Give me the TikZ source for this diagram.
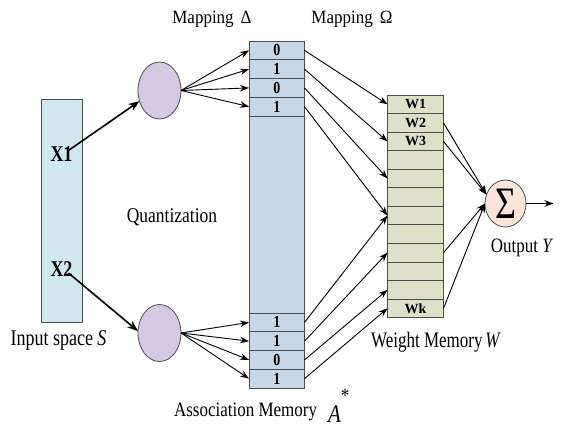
\documentclass[tikz,border=0pt]{standalone}
\usepackage{fontspec}
\setmainfont{Liberation Serif}
\usepackage{tikz}
\usetikzlibrary{positioning,shapes.geometric,arrows.meta}

\definecolor{inblue}{HTML}{CFE8EE}
\definecolor{quantc}{HTML}{D3C9E0}
\definecolor{assoc}{HTML}{C8D7E7}
\definecolor{weightc}{HTML}{DEE0C9}
\definecolor{sumc}{HTML}{FBE5D8}
\definecolor{edgec}{HTML}{4D4D4D}

\newcommand{\talltext}[2][1.2]{\scalebox{1}[#1]{#2}}

\begin{document}
\begin{tikzpicture}[x=1pt,y=-1pt,
		cell/.style={draw=edgec,line width=0.8pt,fill=assoc,minimum width=55.5pt,minimum height=18.75pt,inner sep=0pt,outer sep=0pt,font=\fontsize{14}{14}\selectfont\bfseries},
		wcell/.style={cell,fill=weightc,minimum width=56pt,minimum height=18.55pt},
		quant/.style={ellipse,draw=edgec,line width=0.8pt,fill=quantc,minimum width=43pt,minimum height=57pt,inner sep=0pt,outer sep=0pt},
		lbl/.style={inner sep=0pt,outer sep=0pt,font=\fontsize{17}{20}\selectfont},
		map arr/.style={-{Stealth[length=9pt,width=6.5pt]},line width=0.9pt},
		in arr/.style={-{Stealth[length=11pt,width=8pt]},line width=1.6pt}]
		\useasboundingbox (0,0) rectangle (562,426);
		
		\node[draw=edgec,line width=0.8pt,fill=inblue,minimum width=41pt,minimum height=223pt,outer sep=0pt] (s) at (61.5,210.5) {};
		\node[lbl,font=\fontsize{18}{18}\selectfont\bfseries,anchor=base] (x1) at (61.5,161) {\talltext[1.25]{X1}};
		\node[lbl,font=\fontsize{18}{18}\selectfont\bfseries,anchor=base] (x2) at (61.5,276) {\talltext[1.25]{X2}};
		\node[lbl,font=\fontsize{18}{20}\selectfont,below=23pt of s,anchor=base,xshift=-3pt] (inlbl) {\talltext[1.25]{Input space \textit{S}}};
		
		\node[quant] (q1) at (159.5,90.5) {};
		\node[quant] (q2) at (159.5,333) {};
		\node[lbl,font=\fontsize{17.5}{20}\selectfont,anchor=base] (qlbl) at (172,222) {\talltext{Quantization}};
		\draw[in arr] ([xshift=-5pt,yshift=-5pt]x1.north east) -- (q1.208);
		\draw[in arr] ([xshift=-4pt,yshift=3pt]x2.south east) -- (q2.175);
		
		\node[cell] (a1) at (276.75,50.4) {\talltext{0}};
		\node[cell,below=0pt of a1] (a2) {\talltext{1}};
		\node[cell,below=0pt of a2] (a3) {\talltext{0}};
		\node[cell,below=0pt of a3] (a4) {\talltext{1}};
		\node[cell,minimum height=197pt,below=0pt of a4] (amid) {};
		\node[cell,below=0pt of amid] (b1) {\talltext{1}};
		\node[cell,below=0pt of b1] (b2) {\talltext{1}};
		\node[cell,below=0pt of b2] (b3) {\talltext{0}};
		\node[cell,below=0pt of b3] (b4) {\talltext{1}};
		\node[lbl,below=28pt of b4,anchor=base,xshift=-15pt] (amlbl) {\talltext{Association Memory\hspace{11pt}\raisebox{-5pt}{\fontsize{21}{21}\selectfont\textit{A}}\raisebox{11pt}{*}}};
		\node[lbl,anchor=base] (mapd) at (212,23) {\talltext[1.1]{Mapping\hspace{7pt}Δ}};
		\node[lbl,anchor=base] (mapo) at (352,23) {\talltext[1.1]{Mapping\hspace{7pt}Ω}};
		
		\draw[map arr] (q1.east) -- (a1.west);
		\draw[map arr] (q1.east) -- (a2.west);
		\draw[map arr] (q1.east) -- (a3.west);
		\draw[map arr] (q1.east) -- (a4.west);
		\draw[map arr] (q2.east) -- (b1.west);
		\draw[map arr] (q2.east) -- (b2.west);
		\draw[map arr] (q2.east) -- (b3.west);
		\draw[map arr] (q2.east) -- (b4.west);
		
		\node[wcell] (w1) at (415.5,104.3) {W1};
		\node[wcell,below=0pt of w1] (w2) {W2};
		\node[wcell,below=0pt of w2] (w3) {W3};
		\node[wcell,below=0pt of w3] (w4) {};
		\node[wcell,below=0pt of w4] (w5) {};
		\node[wcell,below=0pt of w5] (w6) {};
		\node[wcell,below=0pt of w6] (w7) {};
		\node[wcell,below=0pt of w7] (w8) {};
		\node[wcell,below=0pt of w8] (w9) {};
		\node[wcell,below=0pt of w9] (w10) {};
		\node[wcell,below=0pt of w10] (w11) {};
		\node[wcell,below=0pt of w11] (w12) {Wk};
		\node[lbl,below=30pt of w12,anchor=base,xshift=20.5pt] (wmlbl) {\talltext[1.3]{Weight Memory\,\textit{W}}};
		
		\draw[map arr] (a1.east) -- (w1.west);
		\draw[map arr] (a2.east) -- (w3.west);
		\draw[map arr] (a3.east) -- (w5.west);
		\draw[map arr] (a4.east) -- (w7.west);
		\draw[map arr] (b1.east) -- (w7.west);
		\draw[map arr] (b2.east) -- (w9.west);
		\draw[map arr] (b3.east) -- (w11.west);
		\draw[map arr] (b4.east) -- (w12.west);
		
		\node[ellipse,draw=edgec,line width=0.8pt,fill=sumc,minimum width=41pt,minimum height=47pt,inner sep=0pt,outer sep=0pt] (sum) at (505.5,203.5) {\fontsize{36}{36}\selectfont\scalebox{1}[1.25]{Σ}};
		\coordinate[right=27.5pt of sum] (out);
		\node[lbl,below=25pt of sum,anchor=base,xshift=16.5pt] (outlbl) {\talltext{Output \textit{Y}}};
		
		\draw[map arr] (w2.east) -- (sum.155);
		\draw[map arr] (w3.east) -- (sum.155);
		\draw[map arr] (w9.east) -- (sum.west);
		\draw[map arr] (w12.east) -- (sum.west);
		\draw[map arr,line width=1.2pt] (sum.east) -- (out);
	\end{tikzpicture}
\end{document}
